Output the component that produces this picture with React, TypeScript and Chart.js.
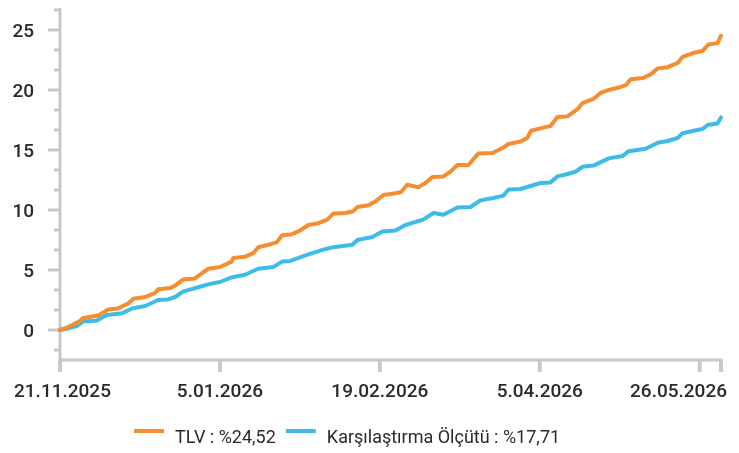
import React, { useEffect, useRef } from 'react';
import { Chart, registerables } from 'chart.js';

Chart.register(...registerables);

// Days since 21.11.2025 and cumulative return (%)
const tlvDays = [0, 2, 5.6, 6.5, 10.7, 13.5, 16.3, 19.2, 20.6, 24, 26.8, 27.6, 31, 32.4, 34.6, 38, 40, 41.7, 45, 48.3, 48.8, 52, 54.4, 55.8, 58.6, 61, 62.5, 65, 67.6, 69.9, 72.7, 75.2, 76.9, 80.3, 82.5, 83.7, 86.8, 88.7, 91, 94.4, 96, 97.7, 100.8, 102.8, 104.8, 107.9, 109.9, 111.8, 114.9, 117.7, 121.7, 124.8, 126.2, 129.6, 131.5, 132.5, 136.6, 138, 140, 142.8, 145.6, 147, 150.1, 152.1, 154.4, 157.2, 159.2, 160.6, 164, 166.2, 168.2, 171, 173.8, 175.2, 178.3, 180.8, 182.5, 185, 186];
const tlvValues = [0, 0.2, 0.75, 1.0, 1.2, 1.7, 1.8, 2.2, 2.6, 2.75, 3.1, 3.4, 3.5, 3.7, 4.2, 4.3, 4.75, 5.1, 5.25, 5.7, 6.0, 6.1, 6.4, 6.9, 7.1, 7.3, 7.9, 7.95, 8.3, 8.75, 8.9, 9.2, 9.7, 9.75, 9.9, 10.25, 10.4, 10.7, 11.25, 11.4, 11.5, 12.1, 11.9, 12.25, 12.75, 12.8, 13.2, 13.75, 13.75, 14.7, 14.75, 15.2, 15.5, 15.7, 16.0, 16.6, 16.9, 17.0, 17.75, 17.8, 18.4, 18.9, 19.25, 19.75, 20.0, 20.2, 20.4, 20.9, 21.0, 21.3, 21.8, 21.9, 22.25, 22.75, 23.1, 23.25, 23.8, 23.9, 24.52];

const benchDays = [0, 2.8, 4.8, 6.5, 10.4, 13.2, 17.5, 20.3, 24, 27.6, 30.4, 32.4, 34.6, 39.4, 41.7, 45, 48.5, 52, 55.8, 60, 62.5, 64.8, 69.9, 74.1, 76.9, 82.3, 83.7, 87.9, 90.7, 94.4, 97.2, 102.2, 105.1, 107.9, 111.8, 115.5, 118.3, 121.9, 124.8, 126.2, 129.6, 132.4, 135.2, 138, 140, 142.8, 145.1, 147, 150.1, 154.4, 158.3, 160, 164.8, 168.2, 171, 173.8, 175.2, 178.3, 180.8, 182.3, 185, 186];
const benchValues = [0, 0.17, 0.35, 0.7, 0.8, 1.25, 1.4, 1.8, 2.0, 2.5, 2.55, 2.75, 3.2, 3.6, 3.8, 4.0, 4.4, 4.6, 5.1, 5.25, 5.7, 5.75, 6.3, 6.7, 6.9, 7.1, 7.5, 7.75, 8.2, 8.3, 8.75, 9.2, 9.75, 9.6, 10.2, 10.25, 10.8, 11.0, 11.2, 11.7, 11.75, 12.0, 12.25, 12.3, 12.8, 13.0, 13.2, 13.6, 13.7, 14.3, 14.5, 14.9, 15.1, 15.6, 15.75, 16.0, 16.4, 16.6, 16.75, 17.1, 17.2, 17.71];

const seriesLabels = ['TLV : %24,52', 'Karşılaştırma Ölçütü : %17,71'];
const seriesColors = ['#F68D2E', '#3DBBE9'];

const xTickDays = [0, 45, 90, 135, 180, 186];
const xTickLabels = ['21.11.2025', '5.01.2026', '19.02.2026', '5.04.2026', '', '26.05.2026'];
const yMajorTicks = [0, 5, 10, 15, 20, 25];
const yMinorTicks = [-5 / 3, 5 / 3, 10 / 3, 20 / 3, 25 / 3, 35 / 3, 40 / 3, 50 / 3, 55 / 3, 65 / 3, 70 / 3, 80 / 3];

const AXIS = '#c8c8c8';
const TEXT = '#2a2a2a';
const FONT = 'Roboto, "Noto Sans", sans-serif';

const axesPlugin = {
  id: 'customAxes',
  beforeDatasetsDraw(chart: any) {
    const { ctx, chartArea, scales } = chart;
    const x = scales.x;
    const y = scales.y;
    ctx.save();
    ctx.fillStyle = AXIS;
    ctx.fillRect(chartArea.left - 1.5, chartArea.top, 3, chartArea.bottom - chartArea.top + 1.5);
    ctx.fillRect(chartArea.left - 1.5, chartArea.bottom - 1.5, chartArea.right - chartArea.left + 3, 3);
    xTickDays.forEach((d) => {
      const px = x.getPixelForValue(d);
      ctx.fillRect(px - 2, chartArea.bottom, 4, 12);
    });
    yMajorTicks.forEach((v) => {
      const py = y.getPixelForValue(v);
      ctx.fillRect(chartArea.left - 12, py - 1.5, 12, 3);
    });
    yMinorTicks.forEach((v) => {
      const py = y.getPixelForValue(v);
      ctx.fillRect(chartArea.left - 6, py - 1.5, 6, 3);
    });
    ctx.restore();
  },
  afterDraw(chart: any) {
    const { ctx, chartArea, scales } = chart;
    const x = scales.x;
    const y = scales.y;
    ctx.save();
    ctx.fillStyle = TEXT;
    ctx.font = `500 19px ${FONT}`;
    ctx.textBaseline = 'alphabetic';
    ctx.textAlign = 'right';
    yMajorTicks.forEach((v) => {
      const py = y.getPixelForValue(v);
      ctx.fillText(String(v), 34, py + 7);
    });
    ctx.textAlign = 'left';
    xTickDays.forEach((d, i) => {
      const label = xTickLabels[i];
      if (!label) return;
      const w = ctx.measureText(label).width;
      let lx = x.getPixelForValue(d) - w / 2;
      lx = Math.max(lx, 14);
      lx = Math.min(lx, chart.width - 12 - w);
      ctx.fillText(label, lx, chartArea.bottom + 37);
    });
    ctx.font = `18px ${FONT}`;
    let lx = 134;
    chart.data.datasets.forEach((ds: any) => {
      ctx.fillStyle = ds.borderColor;
      ctx.fillRect(lx, 429, 30, 4);
      lx += 41;
      ctx.fillStyle = TEXT;
      ctx.fillText(ds.label, lx, 443);
      lx += ctx.measureText(ds.label).width + 10;
    });
    ctx.restore();
  },
};

export default function App() {
  const ref = useRef<HTMLCanvasElement | null>(null);

  useEffect(() => {
    if (!ref.current) return;
    const chart = new Chart(ref.current, {
      type: 'line',
      data: {
        datasets: [
          {
            label: seriesLabels[0],
            data: tlvDays.map((d, i) => ({ x: d, y: tlvValues[i] })),
            borderColor: seriesColors[0],
            backgroundColor: seriesColors[0],
            borderWidth: 4,
            pointRadius: 0,
            tension: 0,
            borderJoinStyle: 'round',
            borderCapStyle: 'round',
          },
          {
            label: seriesLabels[1],
            data: benchDays.map((d, i) => ({ x: d, y: benchValues[i] })),
            borderColor: seriesColors[1],
            backgroundColor: seriesColors[1],
            borderWidth: 4,
            pointRadius: 0,
            tension: 0,
            borderJoinStyle: 'round',
            borderCapStyle: 'round',
          },
        ],
      },
      options: {
        responsive: false,
        animation: false,
        clip: false as any,
        layout: { padding: { left: 60, right: 18, top: 8, bottom: 93 } },
        plugins: { legend: { display: false }, tooltip: { enabled: false } },
        scales: {
          x: { type: 'linear', min: 0, max: 186, display: false },
          y: { type: 'linear', min: -2.5, max: 26.83, display: false },
        },
      },
      plugins: [axesPlugin],
    });
    return () => chart.destroy();
  }, []);

  return (
    <div style={{ position: 'absolute', left: 0, top: 0, width: 739, height: 453, background: '#fff' }}>
      <canvas ref={ref} width={739} height={453} />
    </div>
  );
}
